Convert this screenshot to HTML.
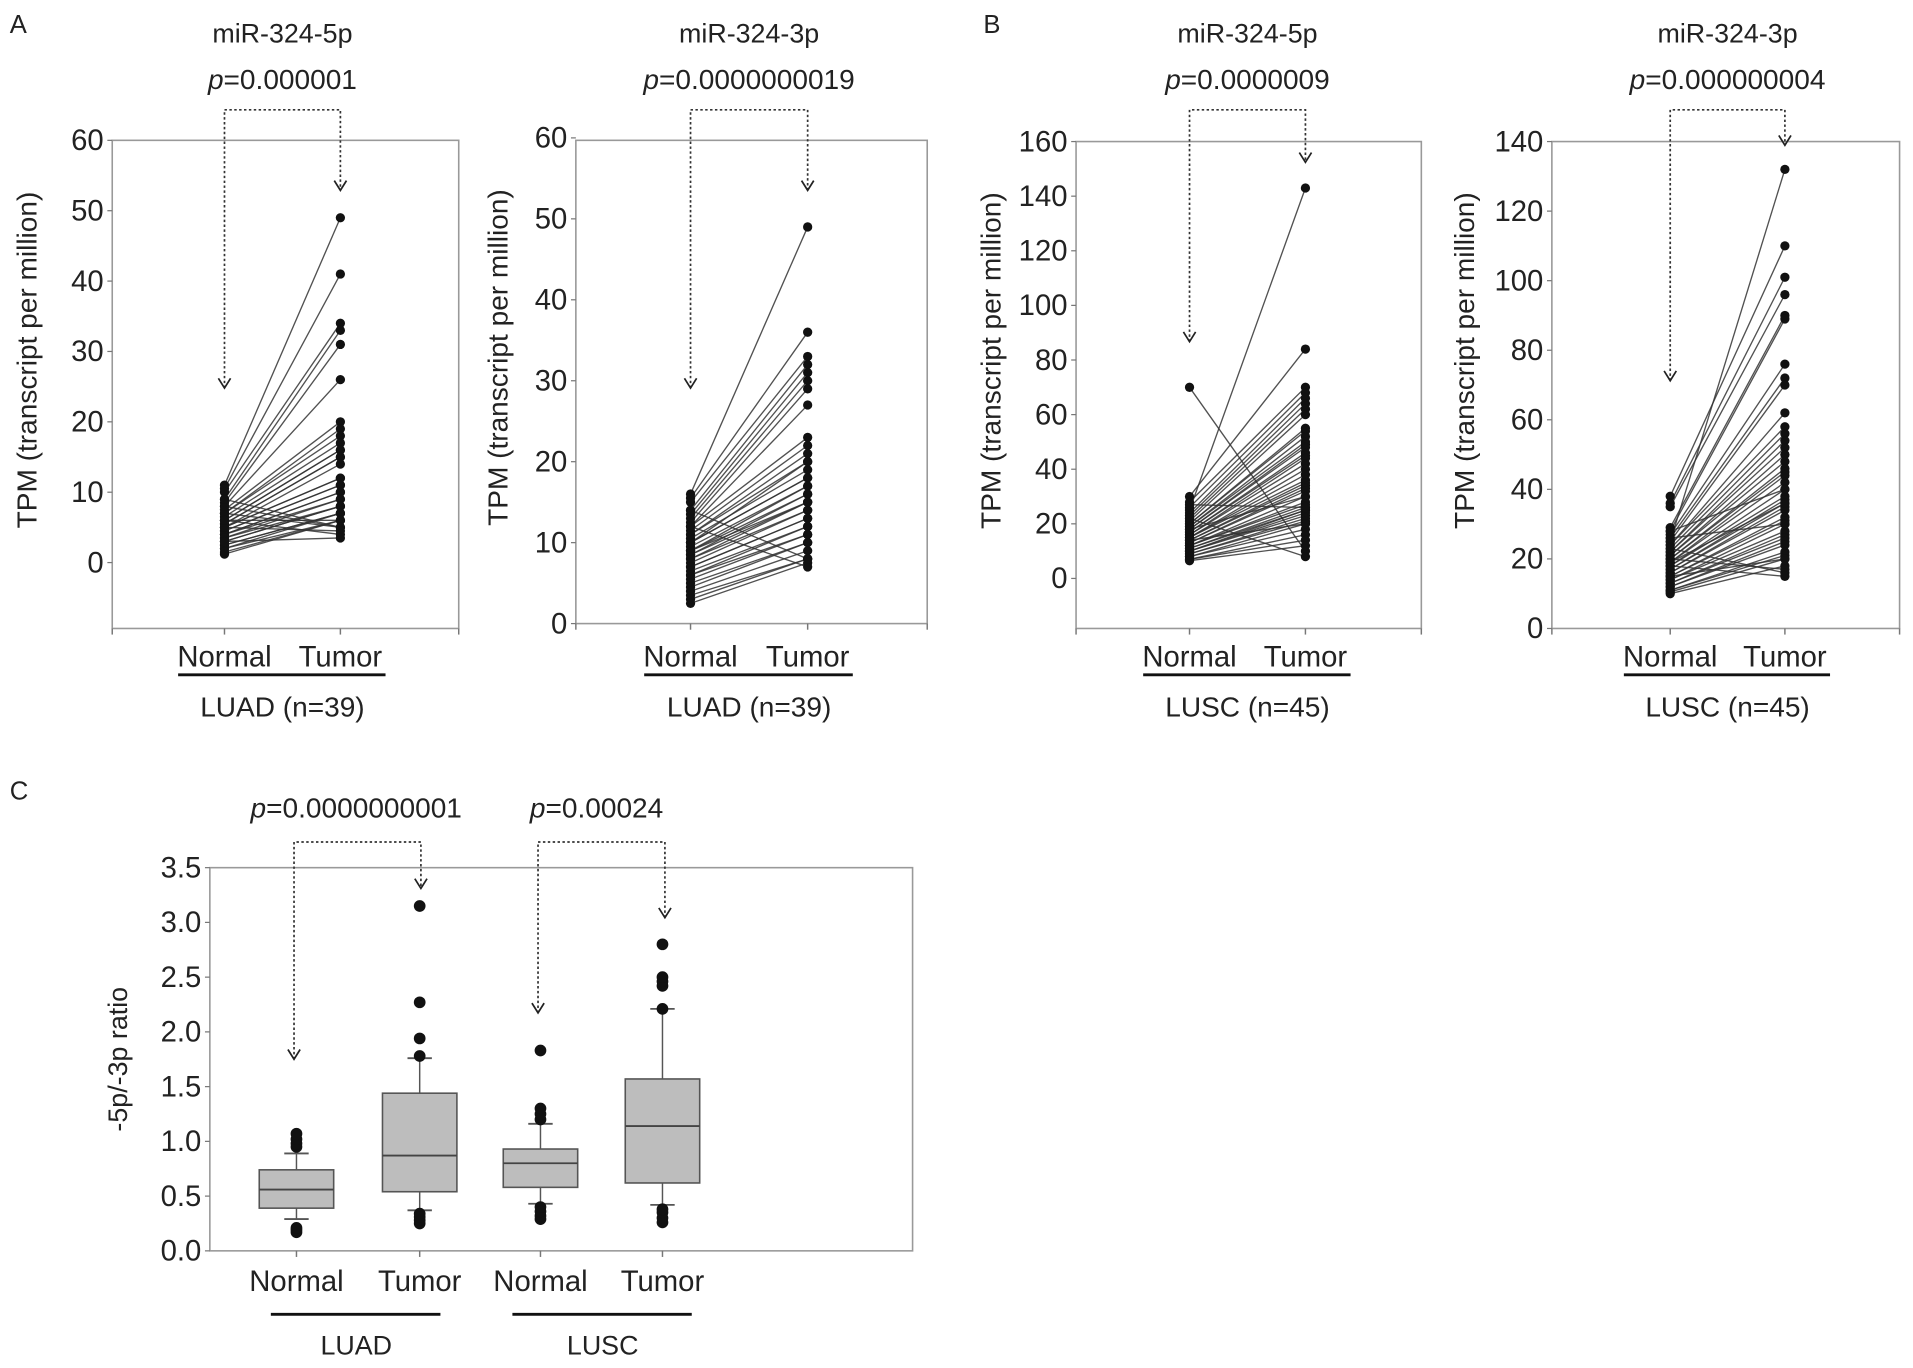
<!DOCTYPE html>
<html><head><meta charset="utf-8"><style>
html,body{margin:0;padding:0;background:#fff;}
svg{display:block;font-family:"Liberation Sans",Arial,sans-serif;}
</style></head><body>
<svg id="fig" width="1913" height="1368" viewBox="0 0 1568 1121" preserveAspectRatio="none" xmlns="http://www.w3.org/2000/svg">
</svg>
<script>
// ---- data ----
const categories = ["Normal","Tumor"];
const a1Normal = [11,10.5,10,9,8.5,8,7.5,7,7,6.5,6,6,5.5,5.5,5,5,5,4.5,4.5,4,4,4,3.5,3.5,3,3,2.5,2.5,2,2,1.5,1.2,6,7,8,9,5,6,3];
const a1Tumor  = [49,41,34,33,31,26,20,19,18,17,16,16,15,15,14,12,12,11,11,10,10,9,9,8,8,8,7,7,7,6,6,6,6,5,5,5,4.5,4,3.5];
const a1Ticks = [0,10,20,30,40,50,60];
const a2Normal = [16,15.5,15,14,13.5,13,12.5,12,12,11.5,11,11,10.5,10,10,9.5,9,9,8.5,8.5,8,8,7.5,7,7,6.5,6,6,5.5,5,4.5,4,3.5,3,2.5,12,9,14,10];
const a2Tumor  = [49,36,33,32,31,30,29,27,23,22,21,20,19,18,18,17,17,16,16,15,15,14,14,13,13,12,12,11,11,10,10,9,8,8,7.5,7,15,8,20];
const a2Ticks = [0,10,20,30,40,50,60];
const b1Normal = [25,70,30,28,26,24,23,22,21,20,20,19,19,18,18,17,17,16,16,15,15,15,14,14,13,13,12,12,12,11,11,10,10,10,9,9,8,8,7,7,6.5,22,18,14,27];
const b1Tumor  = [143,10,84,70,68,66,64,62,60,55,54,52,50,49,48,46,45,44,42,40,38,36,35,34,33,32,30,28,27,26,25,25,24,23,22,21,20,18,16,14,12,8,30,20,26];
const b1Ticks = [0,20,40,60,80,100,120,140,160];
const b2Normal = [25,38,36,35,29,28,27,26,25,24,24,23,22,22,21,21,20,20,19,19,18,18,17,17,16,16,15,15,14,14,13,13,12,12,11,11,10.5,10,20,23,18,26,15,28,19];
const b2Tumor  = [132,110,101,96,90,89,76,72,70,62,58,56,54,52,50,48,46,45,44,42,40,38,37,36,35,34,32,31,30,28,27,26,25,24,22,21,20,18,17,16,15,30,20,40,36];
const b2Ticks = [0,20,40,60,80,100,120,140];
const cGroups = ["LUAD Normal","LUAD Tumor","LUSC Normal","LUSC Tumor"];
const cQ1 = [0.39,0.54,0.58,0.62];
const cMedian = [0.56,0.87,0.80,1.14];
const cQ3 = [0.74,1.44,0.93,1.57];
const cWhiskLo = [0.29,0.37,0.43,0.42];
const cWhiskHi = [0.89,1.76,1.16,2.21];
const cOutliers = [[0.17,0.19,0.21,0.95,0.98,1.02,1.07],[0.25,0.28,0.31,0.34,1.78,1.94,2.27,3.15],[0.29,0.32,0.36,0.40,1.20,1.25,1.30,1.83],[0.26,0.30,0.35,0.38,2.21,2.42,2.46,2.50,2.80]];
const cTicks = [0,0.5,1,1.5,2,2.5,3,3.5];

// ---- helpers ----
const svg = document.getElementById('fig');
const NS = 'http://www.w3.org/2000/svg';
function mk(tag, attrs, parent){const e=document.createElementNS(NS,tag);for(const k in attrs)e.setAttribute(k,attrs[k]);(parent||svg).appendChild(e);return e;}
function txt(x,y,s,size,anchor,parent,extra){const t=mk('text',Object.assign({x:x,y:y,'font-size':size,'text-anchor':anchor||'middle',fill:'#222'},extra||{}),parent);t.textContent=s;return t;}

function pText(x,y,val,size,name){
  const t=mk('text',{x:x,y:y,'font-size':size,'text-anchor':'middle',fill:'#222'});
  
  
  const a=mk('tspan',{'font-style':'italic'},t);a.textContent='p';
  const b=mk('tspan',{},t);b.textContent='='+val;
}
function bracket(xl,xr,top,yl,yr,name){
  const g=mk('g',{});
  
  
  const st={fill:'none',stroke:'#333','stroke-width':1.4,'stroke-dasharray':'2,2'};
  mk('path',Object.assign({d:`M${xl},${yl} L${xl},${top} L${xr},${top} L${xr},${yr}`},st),g);
  mk('path',{d:`M${xl-5},${yl-8} L${xl},${yl} L${xl+5},${yl-8}`,fill:'none',stroke:'#222','stroke-width':1.4},g);
  mk('path',{d:`M${xr-5},${yr-8} L${xr},${yr} L${xr+5},${yr-8}`,fill:'none',stroke:'#222','stroke-width':1.4},g);
}

function pairedPanel(p){
  const g=mk('g',{});
  
  
  const y=v=>p.y0+(v-p.vmin)*(p.yTop-p.y0)/(p.vmax-p.vmin);
  const xs=[p.xN,p.xT];
  const x=i=>xs[i];
  const box=mk('rect',{x:p.L,y:p.T,width:p.R-p.L,height:p.B-p.T,fill:'none',stroke:'#999','stroke-width':1.3},g);
  
  
  [p.L,p.xN,p.xT,p.R].forEach(tx=>mk('line',{x1:tx,y1:p.B,x2:tx,y2:p.B+5,stroke:'#777','stroke-width':1.2},g));
  p.ticks.forEach(v=>{
    mk('line',{x1:p.L-4,y1:y(v),x2:p.L,y2:y(v),stroke:'#777','stroke-width':1},g);
    const t=txt(p.L-7,y(v)+8,String(v),24,'end',g);
    
    
  });
  for(let i=0;i<p.normal.length;i++){
    const l=mk('line',{x1:x(0),y1:y(p.normal[i]),x2:x(1),y2:y(p.tumor[i]),stroke:'#333','stroke-width':1.1,'stroke-opacity':0.85},g);
    
    
  }
  for(let i=0;i<p.normal.length;i++){
    const a=mk('circle',{cx:x(0),cy:y(p.normal[i]),r:3.8,fill:'#111'},g);
    
    
    const b=mk('circle',{cx:x(1),cy:y(p.tumor[i]),r:3.8,fill:'#111'},g);
    
    
  }
  const yt=txt(0,0,'TPM (transcript per million)',23,'middle',g,{transform:`translate(${p.yTitleX},${(p.T+p.B)/2-20}) rotate(-90)`});
  
  
  const n=txt(p.xN,546,categories[0],24,'middle',g);  
  const tm=txt(p.xT,546,categories[1],24,'middle',g);  
  mk('line',{x1:p.xN-38,y1:553,x2:p.xT+37,y2:553,stroke:'#111','stroke-width':2.4},g);
  const gl=txt((p.xN+p.xT)/2,587,p.group,23,'middle',g);  
  const ti=txt((p.xN+p.xT)/2,35,p.title,22,'middle',g);  
  pText((p.xN+p.xT)/2,73,p.pval,23,'p-value');
  bracket(p.xN,p.xT,90,p.arrN,p.arrT,'significance-bracket');
}

pairedPanel({name:'panel-a-5p',L:92,R:376,T:115,B:515,y0:461,yTop:115,vmin:0,vmax:60,xN:184,xT:279,ticks:a1Ticks,normal:a1Normal,tumor:a1Tumor,yTitleX:30,title:'miR-324-5p',pval:'0.000001',group:'LUAD (n=39)',arrN:318,arrT:156});
pairedPanel({name:'panel-a-3p',L:472,R:760,T:115,B:511,y0:511,yTop:113,vmin:0,vmax:60,xN:566,xT:662,ticks:a2Ticks,normal:a2Normal,tumor:a2Tumor,yTitleX:416,title:'miR-324-3p',pval:'0.0000000019',group:'LUAD (n=39)',arrN:318,arrT:156});
pairedPanel({name:'panel-b-5p',L:882,R:1165,T:116,B:515,y0:474,yTop:116,vmin:0,vmax:160,xN:975,xT:1070,ticks:b1Ticks,normal:b1Normal,tumor:b1Tumor,yTitleX:820,title:'miR-324-5p',pval:'0.0000009',group:'LUSC (n=45)',arrN:280,arrT:133});
pairedPanel({name:'panel-b-3p',L:1272,R:1557,T:116,B:515,y0:515,yTop:116,vmin:0,vmax:140,xN:1369,xT:1463,ticks:b2Ticks,normal:b2Normal,tumor:b2Tumor,yTitleX:1208,title:'miR-324-3p',pval:'0.000000004',group:'LUSC (n=45)',arrN:312,arrT:119});

[['A',8,27],['B',806,27],['C',8,655]].forEach(([s,x,y])=>{const t=txt(x,y,s,21,'start');});

// ---- panel C box plot ----
(function(){
  const L=172,R=748,T=711,B=1025;
  const g=mk('g',{});
  
  
  const y=v=>B+(v-0)*(T-B)/3.5;
  const xs=[243,344,443,543];
  const bw=61;
  mk('rect',{x:L,y:T,width:R-L,height:B-T,fill:'none',stroke:'#999','stroke-width':1.3},g);
  xs.forEach(tx=>mk('line',{x1:tx,y1:B,x2:tx,y2:B+5,stroke:'#777','stroke-width':1.2},g));
  cTicks.forEach(v=>{
    mk('line',{x1:L-4,y1:y(v),x2:L,y2:y(v),stroke:'#777','stroke-width':1},g);
    const t=txt(L-7,y(v)+8,v.toFixed(1),24,'end',g);
    
    
  });
  const yt=txt(0,0,'-5p/-3p ratio',22,'middle',g,{transform:`translate(104,868) rotate(-90)`});
  
  
  for(let i=0;i<cGroups.length;i++){
    const x=xs[i];
    const bg=mk('g',{},g);
    
    
    mk('line',{x1:x,y1:y(cWhiskLo[i]),x2:x,y2:y(cWhiskHi[i]),stroke:'#555','stroke-width':1.2},bg);
    mk('line',{x1:x-10,y1:y(cWhiskLo[i]),x2:x+10,y2:y(cWhiskLo[i]),stroke:'#555','stroke-width':1.5},bg);
    mk('line',{x1:x-10,y1:y(cWhiskHi[i]),x2:x+10,y2:y(cWhiskHi[i]),stroke:'#555','stroke-width':1.5},bg);
    mk('rect',{x:x-bw/2,y:y(cQ3[i]),width:bw,height:y(cQ1[i])-y(cQ3[i]),fill:'#bdbdbd',stroke:'#555','stroke-width':1.3},bg);
    mk('line',{x1:x-bw/2,y1:y(cMedian[i]),x2:x+bw/2,y2:y(cMedian[i]),stroke:'#444','stroke-width':1.5},bg);
    cOutliers[i].forEach(v=>{
      const c=mk('circle',{cx:x,cy:y(v),r:4.8,fill:'#111'},bg);
      
      
    });
    const lab=txt(x,1058,cGroups[i].split(' ')[1],24,'middle',g);
    
    
  }
  mk('line',{x1:222,y1:1077,x2:361,y2:1077,stroke:'#111','stroke-width':2.4},g);
  mk('line',{x1:420,y1:1077,x2:567,y2:1077,stroke:'#111','stroke-width':2.4},g);
  const l1=txt(292,1110,'LUAD',22,'middle',g);  
  const l2=txt(494,1110,'LUSC',22,'middle',g);  
  pText(292,670,'0.0000000001',23,'p-value-luad');
  pText(489,670,'0.00024',23,'p-value-lusc');
  bracket(241,345,690,868,728,'bracket-luad');
  bracket(441,545,690,830,752,'bracket-lusc');
})();
</script>
</body></html>
